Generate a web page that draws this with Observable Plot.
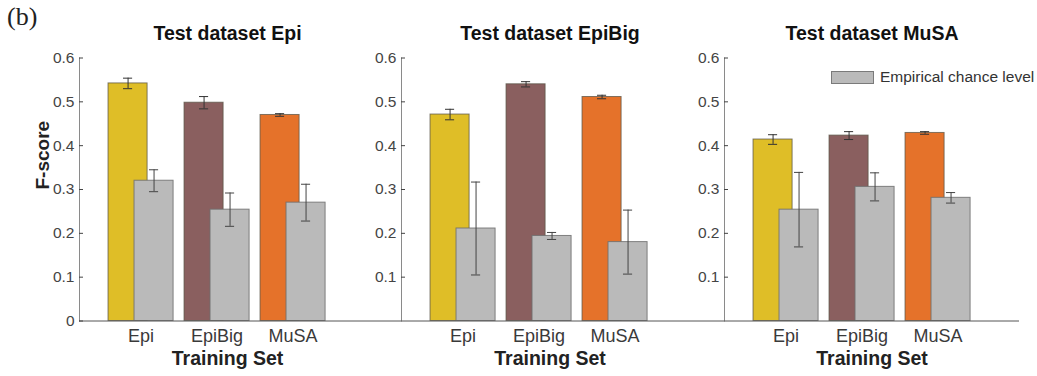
<!DOCTYPE html>
<html>
<head>
<meta charset="utf-8">
<script src="https://cdn.jsdelivr.net/npm/d3@7"></script>
<script src="https://cdn.jsdelivr.net/npm/@observablehq/plot@0.6"></script>
<style>
  body { margin: 0; background: #fff; font-family: "Liberation Sans", Arial, sans-serif; }
  #chart { position: relative; width: 1037px; height: 376px; overflow: hidden; background: #fff; }
  #chart svg { position: absolute; top: 0; }
  .tag { position: absolute; left: 7px; top: 2px; font-family: "Liberation Serif", "DejaVu Serif", serif; font-size: 26px; color: #222; }
  .legend { position: absolute; left: 831px; top: 68px; display: flex; align-items: center; gap: 6px; font-size: 15.5px; color: #333; }
  .legend .swatch { width: 41px; height: 11px; background: #bababa; border: 1px solid #7a7a7a; }
</style>
</head>
<body>
<div id="chart">
  <div class="tag">(b)</div>
  <div class="legend"><span class="swatch"></span><span>Empirical chance level</span></div>
</div>
<script>
// Training sets (x categories) and test datasets (one panel each)
const trainingSets = ["Epi", "EpiBig", "MuSA"];
const testSets = ["Epi", "EpiBig", "MuSA"];
const trainingColors = ["#dfbe27", "#8a5f5f", "#e5722a"];
const chanceColor = "#bababa";

// F-score of the classifier, per test dataset, by training set
const fscoreEpi = [0.542, 0.498, 0.470];
const fscoreEpiErr = [0.012, 0.014, 0.003];
const fscoreEpiBig = [0.471, 0.540, 0.511];
const fscoreEpiBigErr = [0.012, 0.006, 0.004];
const fscoreMuSA = [0.414, 0.423, 0.429];
const fscoreMuSAErr = [0.011, 0.009, 0.003];

// Empirical chance level, per test dataset, by training set
const chanceEpi = [0.320, 0.254, 0.270];
const chanceEpiErr = [0.025, 0.038, 0.042];
const chanceEpiBig = [0.211, 0.194, 0.180];
const chanceEpiBigErr = [0.106, 0.008, 0.073];
const chanceMuSA = [0.254, 0.306, 0.281];
const chanceMuSAErr = [0.085, 0.032, 0.012];

const yTicks = [0, 0.1, 0.2, 0.3, 0.4, 0.5, 0.6];

const series = {
  Epi: {f: fscoreEpi, fe: fscoreEpiErr, c: chanceEpi, ce: chanceEpiErr},
  EpiBig: {f: fscoreEpiBig, fe: fscoreEpiBigErr, c: chanceEpiBig, ce: chanceEpiBigErr},
  MuSA: {f: fscoreMuSA, fe: fscoreMuSAErr, c: chanceMuSA, ce: chanceMuSAErr}
};

// Panel layout: left edge of each y axis, plot width, and the part of the
// baseline that runs on into the gap before the next panel
const panels = [
  {left: 79, plotWidth: 322, gap: 26, marginLeft: 79, marginRight: 0, zero: true, ylabel: true},
  {left: 401, plotWidth: 323, gap: 26, marginLeft: 40, marginRight: 0, zero: false, ylabel: false},
  {left: 724, plotWidth: 295, gap: 0, marginLeft: 40, marginRight: 18, zero: false, ylabel: false}
];

const pxPerGroup = 76;   // spacing between training-set groups
const x0 = 0.19;         // left limit of the x domain
const shift = 0.171;     // offset of each bar from its group centre
const half = 0.257;      // half bar width
const cap = 0.06;        // half width of error-bar caps
const font = "'Liberation Sans', Arial, sans-serif";
const tickLabel = d => String(+d.toFixed(1));

const chart = document.getElementById("chart");

testSets.forEach((test, p) => {
  const cfg = panels[p];
  const s = series[test];
  const rows = trainingSets.map((t, i) => ({
    train: t, idx: i + 1, color: trainingColors[i],
    f: s.f[i], fe: s.fe[i], c: s.c[i], ce: s.ce[i]
  }));
  const xDomain = [x0, x0 + cfg.plotWidth / pxPerGroup];
  const labelDx = -cfg.gap / 2;

  const marks = [
    // classifier bars, chance-level bars drawn over them
    Plot.rectY(rows, {x1: d => d.idx - shift - half, x2: d => d.idx - shift + half, y1: 0, y2: "f",
      fill: "color", stroke: "#5b5548", strokeOpacity: 0.75, strokeWidth: 1}),
    Plot.rectY(rows, {x1: d => d.idx + shift - half, x2: d => d.idx + shift + half, y1: 0, y2: "c",
      fill: chanceColor, stroke: "#6f6f6f", strokeOpacity: 0.85, strokeWidth: 1}),
    // error bars
    Plot.ruleX(rows, {x: d => d.idx - shift, y1: d => d.f - d.fe, y2: d => d.f + d.fe, stroke: "#333"}),
    Plot.ruleY(rows, {y: d => d.f + d.fe, x1: d => d.idx - shift - cap, x2: d => d.idx - shift + cap, stroke: "#333"}),
    Plot.ruleY(rows, {y: d => d.f - d.fe, x1: d => d.idx - shift - cap, x2: d => d.idx - shift + cap, stroke: "#333"}),
    Plot.ruleX(rows, {x: d => d.idx + shift, y1: d => d.c - d.ce, y2: d => d.c + d.ce, stroke: "#444"}),
    Plot.ruleY(rows, {y: d => d.c + d.ce, x1: d => d.idx + shift - cap, x2: d => d.idx + shift + cap, stroke: "#444"}),
    Plot.ruleY(rows, {y: d => d.c - d.ce, x1: d => d.idx + shift - cap, x2: d => d.idx + shift + cap, stroke: "#444"}),
    // axes
    Plot.frame({anchor: "left", stroke: "#8a8a8a"}),
    Plot.ruleY([0], {stroke: "#555"}),
    Plot.axisY({ticks: cfg.zero ? yTicks : yTicks.slice(1), tickFormat: tickLabel, tickSize: -4, tickPadding: 9,
      fontSize: 15.5, color: "#444", label: null}),
    Plot.axisX({ticks: [1, 2, 3], tickFormat: i => trainingSets[i - 1], tickSize: 0, tickPadding: 8,
      fontSize: 18, color: "#3a3a3a", label: null}),
    // title and axis labels
    Plot.text([`Test dataset ${test}`], {text: d => d, frameAnchor: "top", lineAnchor: "middle", dy: -24.5, dx: labelDx,
      fontSize: 19.5, fontWeight: "bold", fill: "#111"}),
    Plot.text(["Training Set"], {text: d => d, frameAnchor: "bottom", lineAnchor: "middle", dy: 37.5, dx: labelDx,
      fontSize: 19.5, fontWeight: "bold", fill: "#222"})
  ];
  if (cfg.ylabel) {
    marks.push(Plot.text(["F-score"], {text: d => d, frameAnchor: "left", lineAnchor: "middle", dx: -37, rotate: -90,
      fontSize: 19, fontWeight: "bold", fill: "#222"}));
  }

  const svg = Plot.plot({
    width: cfg.marginLeft + cfg.plotWidth + cfg.marginRight,
    height: 376,
    marginLeft: cfg.marginLeft,
    marginRight: cfg.marginRight,
    marginTop: 57.5,
    marginBottom: 55.5,
    style: {fontFamily: font, background: "transparent", overflow: "visible"},
    x: {type: "linear", domain: xDomain, axis: null},
    y: {domain: [0, 0.6], axis: null},
    color: {type: "identity"},
    marks
  });
  svg.style.left = (cfg.left - cfg.marginLeft) + "px";
  chart.appendChild(svg);
});
</script>
</body>
</html>
